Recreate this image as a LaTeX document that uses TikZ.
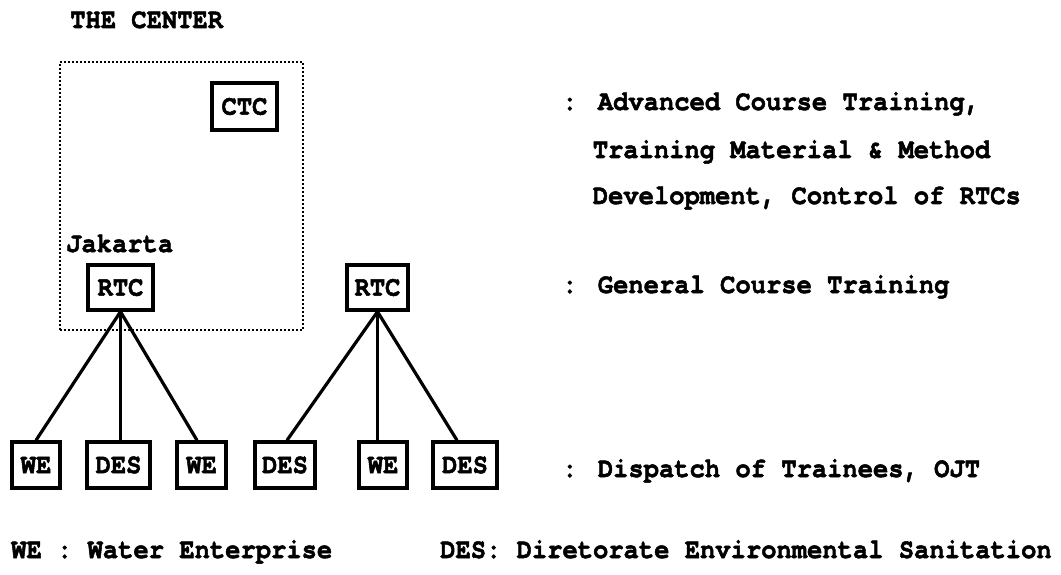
\documentclass[tikz,border=0pt]{standalone}
\usepackage{fontspec}
\newfontfamily\dotfont[FakeBold=1.8,FakeStretch=0.91]{texgyrecursor-bold.otf}
\begin{document}
\begin{tikzpicture}[x=1pt,y=-1pt,
  lbl/.style={font=\dotfont\fontsize{28}{32}\selectfont},
  box/.style={lbl, draw, line width=3.4pt, inner sep=0pt, minimum height=46pt},
  txt/.style={lbl, inner sep=0pt, anchor=base west},
  link/.style={line width=3.2pt},
  dotbox/.style={draw, line width=2.6pt, dash pattern=on 1.8pt off 2.2pt, inner sep=0pt}]
\useasboundingbox (0,0) rectangle (1061,575);
% the center (dotted region)
\node[dotbox, minimum width=243pt, minimum height=268pt] (center) at (181.5,196) {};
\node[txt] (centerlbl) at (70,28) {THE CENTER};
\node[box, minimum width=65pt, minimum height=47pt] (CTC) at (244.5,106.5) {CTC};
\node[txt] (jak) at (66,252) {Jakarta};
% regional training centres
\node[box, minimum width=65pt, minimum height=45pt] (RTC1) at (120.5,287.5) {RTC};
\node[box, minimum width=61pt, minimum height=45pt] (RTC2) at (377.5,287.5) {RTC};
% bottom row
\node[box, minimum width=48pt] (WE1) at (36,465) {WE};
\node[box, minimum width=63pt] (DES1) at (118.5,465) {DES};
\node[box, minimum width=49pt] (WE2) at (201.5,465) {WE};
\node[box, minimum width=60pt] (DES2) at (285,465) {DES};
\node[box, minimum width=48pt] (WE3) at (383,465) {WE};
\node[box, minimum width=64pt] (DES3) at (465,465) {DES};
% connectors
\draw[link] (RTC1.south) -- (WE1.north);
\draw[link] (RTC1.south) -- (DES1.north -| RTC1.south);
\draw[link] (RTC1.south) -- ([xshift=-4.5pt]WE2.north);
\draw[link] (RTC2.south) -- ([xshift=2pt]DES2.north);
\draw[link] (RTC2.south) -- (WE3.north -| RTC2.south);
\draw[link] (RTC2.south) -- ([xshift=-8pt]DES3.north);
% descriptions
\node[txt] (d1a) at (562,110) {: Advanced Course Training,};
\node[txt] (d1b) at (592.6,158) {Training Material \& Method};
\node[txt] (d1c) at (592.6,204) {Development, Control of RTCs};
\node[txt] (d2) at (562,293) {: General Course Training};
\node[txt] (d3) at (562,477) {: Dispatch of Trainees, OJT};
% legend
\node[txt] (legWE) at (11,558) {WE : Water Enterprise};
\node[txt] (legDES) at (440,558) {DES: Diretorate Environmental Sanitation};
\end{tikzpicture}
\end{document}
